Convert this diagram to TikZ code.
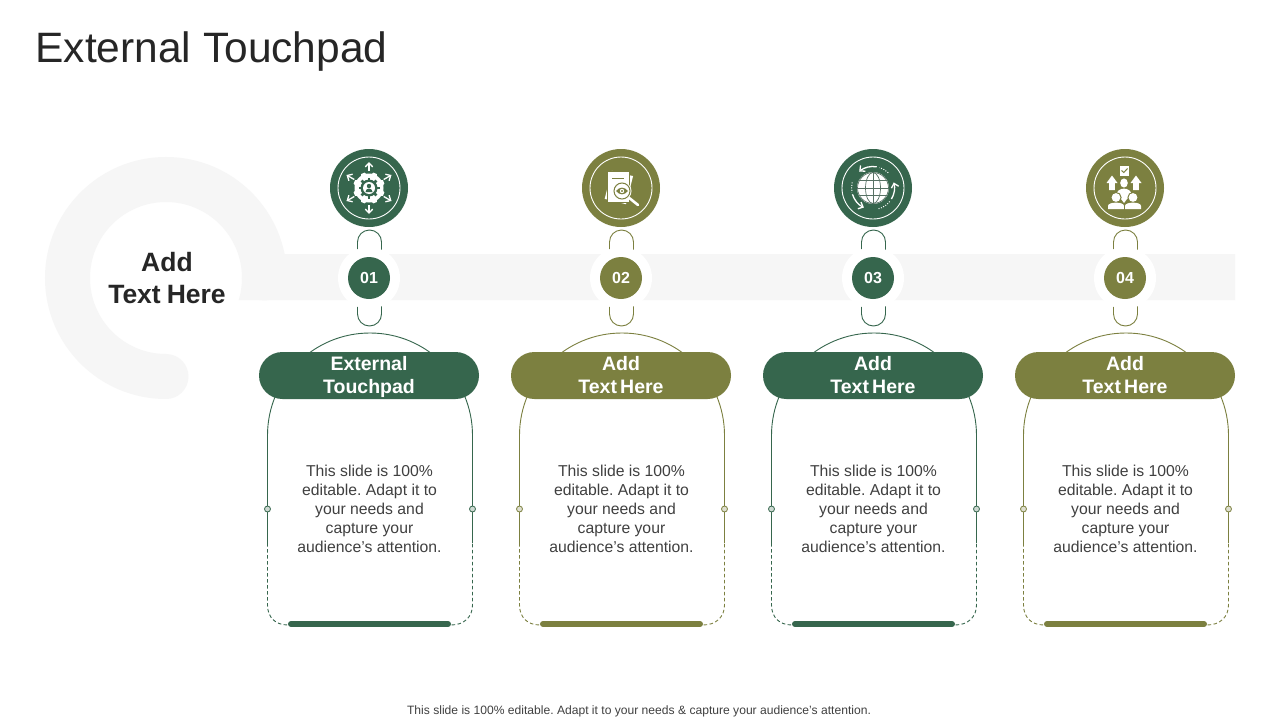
\documentclass[tikz,border=0pt]{standalone}
\usepackage{fontspec}
\setmainfont{Liberation Sans}
\usepackage{tikz}
\usetikzlibrary{arrows.meta}
\usetikzlibrary{calc}

\definecolor{leaf}{HTML}{36664D}
\definecolor{moss}{HTML}{7C8040}
\definecolor{mist}{HTML}{F6F6F6}
\definecolor{ink}{HTML}{262626}
\definecolor{bodygray}{HTML}{404040}

\newcommand{\hubspace}{\spaceskip=6pt\relax}
\newcommand{\pillspace}{\spaceskip=3.2pt\relax}

\tikzset{
	headline/.style={text=ink, font=\fontsize{42.5}{48}\selectfont},
	hubtext/.style={text=ink, align=center, font=\bfseries\fontsize{26.5}{32}\selectfont\hubspace},
	iconcircle/.style={circle, fill=accent, minimum size=78pt, inner sep=0pt},
	halo/.style={circle, fill=white, minimum size=62pt, inner sep=0pt},
	badge/.style={circle, fill=accent, text=white, minimum size=42pt, inner sep=0pt, font=\bfseries\fontsize{16}{19}\selectfont},
	pill/.style={rounded corners=23.5pt, fill=accent, text=white, minimum width=220pt, minimum height=47pt, inner sep=0pt, align=center, font=\bfseries\fontsize{19.5}{23}\selectfont\pillspace},
	bodytext/.style={text=bodygray, align=center, font=\fontsize{15.75}{19}\selectfont},
	footnote/.style={text=bodygray, font=\fontsize{12.1}{14}\selectfont},
	outline/.style={draw=accent, line width=0.9pt},
	dashline/.style={draw=accent, line width=0.9pt, dash pattern=on 3.5pt off 2.5pt},
	pin/.style={circle, draw=accent, fill=accent!25, line width=0.8pt, minimum size=6pt, inner sep=0pt},
	iconarrow/.style={draw=white, line width=1.3pt, -{Straight Barb[length=4pt,width=7.5pt]}},
	icondots/.style={draw=white, line width=1pt, dash pattern=on 1pt off 1.5pt},
	icon01/.pic={
		\fill[white] (0,0) circle (14.5);
		\foreach \a in {0,45,...,315} {\fill[white] (\a:12) -- (\a+16:16) -- (\a+29:16) -- (\a+45:12) -- cycle;}
		\foreach \a in {30,90,150,210,270,330} {\draw[iconarrow] (\a:17) -- (\a:26);}
		\fill[accent] (0,0) circle (8.5);
		\foreach \a in {0,45,...,315} {\draw[accent, line width=2.5pt] (\a:8) -- (\a:10.5);}
		\fill[white] (0,0) circle (6);
		\fill[accent] (0,2) circle (2.2);
		\fill[accent] (-3.5,-4) arc[start angle=180, end angle=0, radius=3.5] -- cycle;
	},
	icon02/.pic={
		\fill[white, rotate around={-14:(-2,1)}] (-13,-14) rectangle (9,15);
		\fill[white] (-13.8,-14.8) rectangle (8.8,16.8);
		\draw[accent, line width=0.8pt] (-13.8,-14.8) rectangle (8.8,16.8);
		\fill[white] (-13,-14) rectangle (8,16);
		\draw[accent, line width=1pt] (-9,10) -- (3,10);
		\draw[white, line width=2.6pt, line cap=round] (7,-9) -- (17,-17);
		\fill[white] (1,-3) circle (9.5);
		\draw[accent, line width=1pt] (1,-3) circle (8);
		\fill[accent] (-5,-3) .. controls (-1,1.5) and (3,1.5) .. (7,-3) .. controls (3,-7.5) and (-1,-7.5) .. (-5,-3) -- cycle;
		\fill[white] (1,-3) circle (2.2);
		\fill[accent] (1,-3) circle (1.1);
	},
	icon03/.pic={
		\fill[white] (0,0) circle (16);
		\begin{scope}[draw=leaf!55!gray, line width=0.7pt]
			\draw (0,0) circle (15.5);
			\draw (0,0) ellipse (7.5 and 15.5);
			\draw (0,-15.5) -- (0,15.5);
			\draw (-15.5,0) -- (15.5,0);
			\draw (-13.5,7.5) -- (13.5,7.5);
			\draw (-13.5,-7.5) -- (13.5,-7.5);
		\end{scope}
		\draw[iconarrow] (80:21.5) arc[start angle=80, end angle=130, radius=21.5];
		\draw[iconarrow] (197:21.5) arc[start angle=197, end angle=245, radius=21.5];
		\draw[iconarrow] (-31:21.5) arc[start angle=-31, end angle=15, radius=21.5];
		\draw[icondots] (45:21.5) arc[start angle=45, end angle=72, radius=21.5];
		\draw[icondots] (165:21.5) arc[start angle=165, end angle=192, radius=21.5];
		\draw[icondots] (285:21.5) arc[start angle=285, end angle=325, radius=21.5];
	},
	icon04/.pic={
		\fill[white] (-5.5,12.5) rectangle (4,22);
		\draw[accent, line width=1pt] (-3.5,17.5) -- (-1.2,15.5) -- (2.5,19.5);
		\foreach \s in {-1,1} {
			\fill[white] ({-1+\s*12-5.5},5) -- ({-1+\s*12},12.5) -- ({-1+\s*12+5.5},5) -- ({-1+\s*12+2.8},5) -- ({-1+\s*12+2.8},-2) -- ({-1+\s*12-2.8},-2) -- ({-1+\s*12-2.8},5) -- cycle;
		}
		\fill[white] (-1,5) ellipse (3.8 and 4.6);
		\fill[white] (-8.5,-7) .. controls (-8.5,1.5) and (6.5,1.5) .. (6.5,-7) -- (2,-11) -- (-1,-15) -- (-4,-11) -- cycle;
		\foreach \s in {-9,8} {
			\fill[accent] (\s,-9.5) circle (5.6);
			\fill[white] (\s,-9.5) circle (4.4);
			\fill[accent] (\s-9,-21.8) -- (\s-9,-17.5) .. controls (\s-9,-12.5) and (\s+9,-12.5) .. (\s+9,-17.5) -- (\s+9,-21.8) -- cycle;
			\fill[white] (\s-8,-21) -- (\s-8,-18) .. controls (\s-8,-13.5) and (\s+8,-13.5) .. (\s+8,-18) -- (\s+8,-21) -- cycle;
		}
	}
}

\begin{document}
\frenchspacing
\begin{tikzpicture}[x=1pt, y=1pt]
	\useasboundingbox (0,0) rectangle (1280,-720);
	\fill[white] (0,0) rectangle (1280,-720);

	% ring and band
	\draw[mist, line width=45pt, line cap=round] (166,-376.5) arc[start angle=270, delta angle=-270, radius=98.5];
	\fill[mist] (1235,-254) -- (284,-254) -- (264,-254) -- (242,-278) arc[start angle=0, end angle=-17, radius=76] -- (1235,-300) -- cycle;

	\node[headline, anchor=west] (title) at (32,-52) {External Touchpad};
	\node[hubtext] (hub) at (167,-278) {Add\\Text Here};

	\foreach \cx/\clr/\num/\ttl in {369/leaf/01/External\\Touchpad, 621/moss/02/Add\\Text Here, 873/leaf/03/Add\\Text Here, 1125/moss/04/Add\\Text Here} {
		\colorlet{accent}{\clr}
		\begin{scope}[xshift=\cx pt]
			% capsule pieces
			\draw[outline] (-11.5,-256) -- (-11.5,-242) arc[start angle=180, end angle=0, radius=12] -- (12.5,-256);
			\draw[outline] (-11.5,-300) -- (-11.5,-314) arc[start angle=180, end angle=360, radius=12] -- (12.5,-300);

			% arch and lower part
			\draw[outline] (-101.5,-543) -- (-101.5,-435.5) arc[start angle=180, end angle=0, radius=102.5] -- (103.5,-543);
			\draw[dashline] (-101.5,-543) -- (-101.5,-605) .. controls (-101.5,-617) and (-94,-625) .. (-81,-625) -- (82,-625) .. controls (95,-625) and (103.5,-617) .. (103.5,-605) -- (103.5,-543);
			\draw[accent, line width=6pt, line cap=round] (-78,-624) -- (79,-624);

			\node[halo] (halo\num) at (0,-278) {};
			\node[badge] (badge\num) at (halo\num) {\num};
			\node[iconcircle] (icon\num) at (0,-188) {};
			\draw[white, line width=0.9pt] (icon\num) circle (31);
			\pic at (icon\num) {icon\num};

			\node[pill] (pill\num) at (0,-375.5) {\rule{0pt}{17.5pt}\ttl\rule[-4.5pt]{0pt}{4.5pt}};
			\node[pin] (pinl\num) at (-101.5,-509) {};
			\node[pin] (pinr\num) at (103.5,-509) {};
			\node[bodytext] (text\num) at (0.5,-509) {This slide is 100\%\\editable. Adapt it to\\your needs and\\capture your\\audience\symbol{39}s attention.};
		\end{scope}
	}

	\node[footnote] (foot) at (639,-711) {This slide is 100\% editable. Adapt it to your needs \& capture your audience’s attention.};
\end{tikzpicture}
\end{document}
